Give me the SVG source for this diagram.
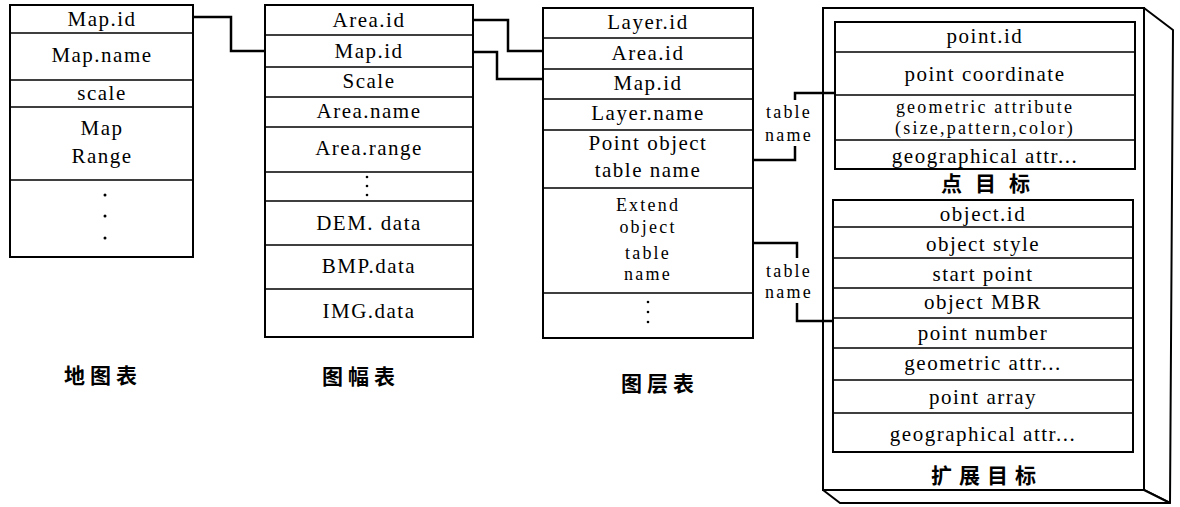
<svg xmlns="http://www.w3.org/2000/svg" width="1180" height="507" viewBox="0 0 1180 507">
  <style>
    .frame { fill: #fff; stroke: #000; stroke-width: 2; }
    .div { stroke: #000; stroke-width: 1.5; fill: none; }
    .t { font-family: "Liberation Serif", "Times New Roman", serif; font-size: 21px; letter-spacing: 1.5px; text-anchor: middle; fill: #000; }
    .s { font-size: 18px; letter-spacing: 2.2px; }
    .cap { font-family: "Noto Sans CJK SC", "Noto Sans", sans-serif; font-weight: bold; font-size: 21px; letter-spacing: 5px; text-anchor: middle; fill: #000; }
    .link { stroke: #000; stroke-width: 2.5; fill: none; stroke-linejoin: miter; }
    .side { fill: #fff; stroke: #000; stroke-width: 2; stroke-linejoin: round; }
  </style>

  <!-- map table -->
  <g id="map-table">
    <rect class="frame" x="10" y="5" width="183" height="252"/>
    <path class="div" d="M10 33H193M10 80H193M10 107H193M10 180H193"/>
    <text class="t" x="102" y="26">Map.id</text>
    <text class="t" x="102" y="62">Map.name</text>
    <text class="t" x="102" y="100">scale</text>
    <text class="t" x="102" y="135">Map</text>
    <text class="t" x="102" y="163">Range</text>
    <circle cx="105" cy="195" r="1.5"/>
    <circle cx="105" cy="216" r="1.5"/>
    <circle cx="105" cy="238" r="1.5"/>
    <text class="cap" x="103" y="383">地图表</text>
  </g>

  <!-- area table -->
  <g id="area-table">
    <rect class="frame" x="265" y="5" width="208" height="332"/>
    <path class="div" d="M265 35H473M265 67H473M265 97H473M265 127H473M265 172H473M265 201H473M265 245H473M265 289H473"/>
    <text class="t" x="369" y="27">Area.id</text>
    <text class="t" x="369" y="58">Map.id</text>
    <text class="t" x="369" y="88">Scale</text>
    <text class="t" x="369" y="118">Area.name</text>
    <text class="t" x="369" y="155">Area.range</text>
    <circle cx="367" cy="177" r="1.3"/>
    <circle cx="367" cy="186" r="1.3"/>
    <circle cx="367" cy="195" r="1.3"/>
    <text class="t" x="369" y="230">DEM. data</text>
    <text class="t" x="369" y="273">BMP.data</text>
    <text class="t" x="369" y="318">IMG.data</text>
    <text class="cap" x="361" y="384">图幅表</text>
  </g>

  <!-- layer table -->
  <g id="layer-table">
    <rect class="frame" x="543" y="8" width="210" height="330"/>
    <path class="div" d="M543 38H753M543 69H753M543 99H753M543 130H753M543 188H753M543 293H753"/>
    <text class="t" x="648" y="29">Layer.id</text>
    <text class="t" x="648" y="60">Area.id</text>
    <text class="t" x="648" y="90">Map.id</text>
    <text class="t" x="648" y="120">Layer.name</text>
    <text class="t" x="648" y="150">Point object</text>
    <text class="t" x="648" y="177">table name</text>
    <text class="t s" x="648" y="211">Extend</text>
    <text class="t s" x="648" y="233">object</text>
    <text class="t s" x="648" y="259">table</text>
    <text class="t s" x="648" y="280">name</text>
    <circle cx="648" cy="302" r="1.3"/>
    <circle cx="648" cy="312" r="1.3"/>
    <circle cx="648" cy="322" r="1.3"/>
    <text class="cap" x="660" y="391">图层表</text>
  </g>

  <!-- object box: point object table and extended object table -->
  <g id="object-box">
    <path class="side" d="M1144 8L1173 30L1170 503L1144 490Z"/>
    <path class="side" d="M823 490L840 503L1170 503L1144 490Z"/>
    <rect class="frame" x="823" y="8" width="321" height="482"/>
  </g>

  <g id="point-table">
    <rect class="frame" x="835" y="22" width="300" height="147"/>
    <path class="div" d="M835 52H1135M835 95H1135M835 140H1135"/>
    <text class="t" x="985" y="43">point.id</text>
    <text class="t" x="985" y="81">point coordinate</text>
    <text class="t s" x="985" y="113">geometric attribute</text>
    <text class="t s" x="985" y="134">(size,pattern,color)</text>
    <text class="t" x="985" y="163">geographical attr...</text>
    <text class="cap" x="992" y="191" style="letter-spacing:13px">点目标</text>
  </g>

  <g id="extend-table">
    <rect class="frame" x="833" y="200" width="300" height="252"/>
    <path class="div" d="M833 227H1133M833 258H1133M833 288H1133M833 318H1133M833 348H1133M833 380H1133M833 413H1133"/>
    <text class="t" x="983" y="221">object.id</text>
    <text class="t" x="983" y="251">object style</text>
    <text class="t" x="983" y="281">start point</text>
    <text class="t" x="983" y="309">object MBR</text>
    <text class="t" x="983" y="340">point number</text>
    <text class="t" x="983" y="370">geometric attr...</text>
    <text class="t" x="983" y="404">point array</text>
    <text class="t" x="983" y="441">geographical attr...</text>
    <text class="cap" x="987" y="483" style="letter-spacing:7px">扩展目标</text>
  </g>

  <!-- link labels -->
  <g id="link-labels">
    <text class="t s" x="789" y="118">table</text>
    <text class="t s" x="789" y="141">name</text>
    <text class="t s" x="789" y="277">table</text>
    <text class="t s" x="789" y="298">name</text>
  </g>

  <!-- key links between tables -->
  <g id="connectors">
    <path class="link" d="M193 17H231V51H265"/>
    <path class="link" d="M473 20H508V51H543"/>
    <path class="link" d="M473 52H497V79H543"/>
    <path class="link" d="M753 160H795V146"/>
    <path class="link" d="M795 100V93H835"/>
    <path class="link" d="M753 243H797V258"/>
    <path class="link" d="M797 303V321H833"/>
  </g>
</svg>
